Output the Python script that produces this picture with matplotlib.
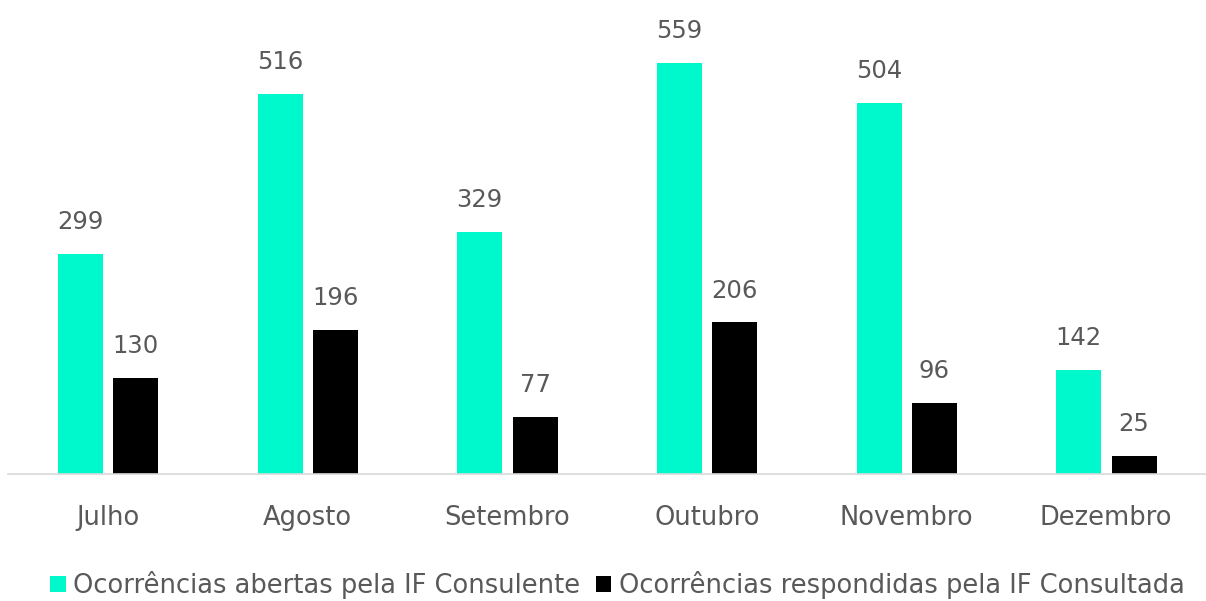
import numpy as np
import matplotlib
matplotlib.use("Agg")
import matplotlib.pyplot as plt

months = ["Julho", "Agosto", "Setembro", "Outubro", "Novembro", "Dezembro"]
abertas = [299, 516, 329, 559, 504, 142]
respondidas = [130, 196, 77, 206, 96, 25]
labels = ["Ocorrências abertas pela IF Consulente",
          "Ocorrências respondidas pela IF Consultada"]

teal = "#00F9CC"
black = "#000000"
gray = "#595959"

plt.rcParams["font.family"] = "DejaVu Sans"

fig = plt.figure(figsize=(12.06, 6.01), dpi=100)
ax = fig.add_axes([8/1206, 1-474/601, 1198/1206, 454/601])

x = np.arange(len(months))
w = 0.225
b1 = ax.bar(x - 0.1375, abertas, w, color=teal, label=labels[0])
b2 = ax.bar(x + 0.14, respondidas, w, color=black, label=labels[1])

for bars in (b1, b2):
    for r in bars:
        ax.text(r.get_x() + r.get_width()/2, r.get_height() + 27, f"{int(r.get_height())}",
                ha="center", va="bottom", fontsize=17.5, color=gray)

ax.set_xlim(-0.5, len(months) - 0.5)
ax.set_ylim(0, 617)
ax.set_yticks([])
ax.set_xticks(x)
ax.set_xticklabels(months, fontsize=18.5, color=gray)
ax.tick_params(axis="x", length=0, pad=22)
for s in ["top", "right", "left"]:
    ax.spines[s].set_visible(False)
ax.spines["bottom"].set_color("#D9D9D9")
ax.spines["bottom"].set_linewidth(1.2)

leg = fig.legend(loc="center", bbox_to_anchor=(0.512, 1-585/601), ncol=2, frameon=False,
                 fontsize=18.5, handlelength=0.6, handleheight=0.6, handletextpad=0.3,
                 columnspacing=0.6)
for t in leg.get_texts():
    t.set_color(gray)

plt.savefig("out.png", dpi=100)
